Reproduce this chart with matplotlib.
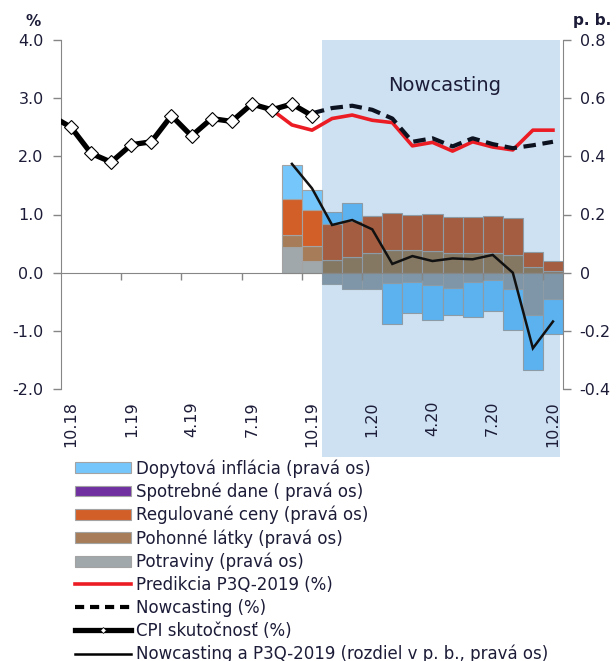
import numpy as np
import matplotlib
matplotlib.use("Agg")
import matplotlib.pyplot as plt
from matplotlib.patches import Rectangle, Patch
from matplotlib.lines import Line2D

# ---------------- data ----------------
months = ['10.18', '11.18', '12.18', '1.19', '2.19', '3.19', '4.19', '5.19', '6.19',
          '7.19', '8.19', '9.19', '10.19', '11.19', '12.19', '1.20', '2.20', '3.20',
          '4.20', '5.20', '6.20', '7.20', '8.20', '9.20', '10.20']
label_months = ['10.18', '1.19', '4.19', '7.19', '10.19', '1.20', '4.20', '7.20', '10.20']

# CPI actual (%), from 9.18 (just left of the axis) to 10.19
cpi_months = ['9.18'] + months[:13]
cpi = [2.7, 2.5, 2.05, 1.9, 2.2, 2.25, 2.7, 2.35, 2.65, 2.6, 2.9, 2.8, 2.9, 2.7]

# Prediction P3Q-2019 (%), from 9.18 to 10.20
pred_months = ['9.18'] + months
pred = [2.7, 2.5, 2.05, 1.9, 2.2, 2.25, 2.7, 2.35, 2.65, 2.6, 2.9, 2.8,
        2.54, 2.45, 2.65, 2.71, 2.62, 2.58, 2.18, 2.24, 2.09, 2.25, 2.16, 2.11, 2.45, 2.45]

# Nowcasting (%), 10.19 - 10.20
now_months = months[12:]
nowcast = [2.74, 2.83, 2.87, 2.80, 2.65, 2.25, 2.31, 2.17, 2.31, 2.21, 2.14, 2.19, 2.25]

# Decomposition (p. b., right axis), 9.19 - 10.20
bar_months = months[11:]
demand = [0.117, 0.067, 0.040, 0.062, 0.0, -0.138, -0.109, -0.120, -0.094, -0.120, -0.106, -0.140, -0.187, -0.120]
excise = [0.0, 0.0, 0.0, 0.0, 0.0, 0.0, 0.0, 0.0, 0.0, 0.0, 0.0, 0.0, 0.0, 0.0]
regulated = [0.125, 0.124, 0.124, 0.126, 0.126, 0.128, 0.120, 0.125, 0.126, 0.126, 0.128, 0.128, 0.049, 0.034]
fuel = [0.040, 0.052, 0.044, 0.053, 0.069, 0.078, 0.078, 0.076, 0.067, 0.067, 0.067, 0.061, 0.021, 0.005]
food = [0.088, 0.040, -0.040, -0.057, -0.057, -0.037, -0.031, -0.042, -0.052, -0.031, -0.025, -0.057, -0.146, -0.092]
# Nowcasting minus P3Q-2019 (p. b., right axis)
diff = [0.374, 0.29, 0.164, 0.181, 0.149, 0.030, 0.057, 0.040, 0.049, 0.046, 0.061, 0.0, -0.26, -0.168]

nowcast_start = '11.19'

# ---------------- style ----------------
TXT = '#1c1c38'
GRID = '#868686'
SHADE = '#cde1f2'
base_cols = {'food': '#a0a8ac', 'fuel': '#a67d58', 'excise': '#7030a0',
             'regulated': '#d25f28', 'demand': '#75c6fa'}
shade_cols = {'food': '#7e96a8', 'fuel': '#857863', 'excise': '#5a2a80',
              'regulated': '#a45d40', 'demand': '#5cb2ee'}

plt.rcParams['font.family'] = ['DejaVu Sans']

W, H = 616, 661
fig = plt.figure(figsize=(W / 100, H / 100), dpi=100)
ax_l, ax_r, ax_t, ax_b = 61, 563, 40, 389
ax = fig.add_axes([ax_l / W, 1 - ax_b / H, (ax_r - ax_l) / W, (ax_b - ax_t) / H])
ax2 = ax.twinx()

pos = {m: i for i, m in enumerate(months)}
pos['9.18'] = -1

ax.set_xlim(-0.5, len(months) - 0.5)
ax.set_ylim(-0.4, 0.8)
ax2.set_ylim(-2.0, 4.0)

# shading of the nowcasting period (extends below the plot, behind labels)
x0 = pos[nowcast_start] - 0.5
x1 = len(months) - 0.65
shade = Rectangle((x0, -0.195), x1 - x0, 1.195,
                  transform=ax.get_xaxis_transform(), facecolor=SHADE,
                  edgecolor='none', clip_on=False, zorder=0)
ax.add_patch(shade)
ax.text((x0 + x1) / 2 + 0.2, 0.87, 'Nowcasting', transform=ax.get_xaxis_transform(),
        ha='center', va='center', fontsize=14, color=TXT, zorder=5)

# stacked bars
bx = np.array([pos[m] for m in bar_months])
in_shade = bx >= pos[nowcast_start]
series = [('food', food), ('fuel', fuel), ('excise', excise),
          ('regulated', regulated), ('demand', demand)]
pos_bottom = np.zeros(len(bx))
neg_bottom = np.zeros(len(bx))
for name, vals in series:
    v = np.array(vals)
    bottom = np.where(v >= 0, pos_bottom, neg_bottom)
    cols = [shade_cols[name] if s else base_cols[name] for s in in_shade]
    ecols = ['#8d9ba6' if s else '#a3a3a3' for s in in_shade]
    ax.bar(bx, v, bottom=bottom, width=1.0, color=cols, edgecolor=ecols,
           linewidth=0.8, zorder=1)
    pos_bottom = pos_bottom + np.where(v > 0, v, 0)
    neg_bottom = neg_bottom + np.where(v < 0, v, 0)

ax.plot(bx, diff, color='#111111', lw=1.8, zorder=3, solid_joinstyle='miter')

# lines on % axis
ax2.plot([pos[m] for m in pred_months], pred, color='#ec1c24', lw=2.6, zorder=2)
ax2.plot([pos[m] for m in now_months], nowcast, color='#0d1220', lw=3.0,
         dashes=(3.0, 1.6), zorder=3)
ax2.plot([pos[m] for m in cpi_months], cpi, color='black', lw=3.8, zorder=4,
         marker='D', markersize=7, markerfacecolor='white', markeredgecolor='black',
         markeredgewidth=0.8)

# axes / spines
ax.yaxis.tick_right()
ax2.yaxis.tick_left()
for s in ['left', 'top']:
    ax.spines[s].set_visible(False)
ax.spines['right'].set_color(GRID)
ax.spines['bottom'].set_position(('data', 0))
ax.spines['bottom'].set_color(GRID)
for s in ['right', 'top', 'bottom']:
    ax2.spines[s].set_visible(False)
ax2.spines['left'].set_color(GRID)

TICK_FS = 11.5
ax.set_yticks([0.8, 0.6, 0.4, 0.2, 0.0, -0.2, -0.4])
ax.set_yticklabels(['0.8', '0.6', '0.4', '0.2', '0', '-0.2', '-0.4'])
ax.tick_params(axis='y', right=True, left=False, labelright=True, labelleft=False,
               length=6, width=1, color=GRID, pad=6, labelsize=TICK_FS, labelcolor=TXT)
ax2.set_yticks([4, 3, 2, 1, 0, -1, -2])
ax2.set_yticklabels([f'{v:.1f}' for v in [4, 3, 2, 1, 0, -1, -2]])
ax2.tick_params(axis='y', left=True, right=False, labelleft=True, labelright=False,
                length=6, width=1, color=GRID, pad=6.5, labelsize=TICK_FS, labelcolor=TXT)

ax_h_px = ax_b - ax_t
pad_pt = ((0.0 - (-0.4)) / 1.2 * ax_h_px + 12) * 72 / 100
ax.set_xticks([pos[m] for m in label_months])
ax.set_xticklabels(label_months, rotation=90)
ax.tick_params(axis='x', which='major', length=0, pad=pad_pt, labelsize=TICK_FS, labelcolor=TXT)
ax.set_xticks([pos[m] - 0.5 for m in label_months[1:]], minor=True)
ax.tick_params(axis='x', which='minor', length=5, width=1, color=GRID, direction='out')

fig.text(33 / W, 1 - 21 / H, '%', ha='center', va='center', fontsize=11,
         fontweight='bold', color=TXT)
fig.text(592 / W, 1 - 21 / H, 'p. b.', ha='center', va='center', fontsize=11,
         fontweight='bold', color=TXT)

# legend
handles = [
    Patch(facecolor=base_cols['demand'], edgecolor='#a3a3a3', lw=0.8),
    Patch(facecolor=base_cols['excise'], edgecolor='#a3a3a3', lw=0.8),
    Patch(facecolor=base_cols['regulated'], edgecolor='#a3a3a3', lw=0.8),
    Patch(facecolor=base_cols['fuel'], edgecolor='#a3a3a3', lw=0.8),
    Patch(facecolor=base_cols['food'], edgecolor='#a3a3a3', lw=0.8),
    Line2D([], [], color='#ec1c24', lw=2.6),
    Line2D([], [], color='black', lw=3.0, dashes=(2.2, 1.4)),
    Line2D([], [], color='black', lw=3.8, marker='D', markersize=3,
           markerfacecolor='white', markeredgecolor='black', markeredgewidth=0.5,
           markevery=[1]),
    Line2D([], [], color='black', lw=1.8),
]
labels = ['Dopytová inflácia (pravá os)', 'Spotrebné dane ( pravá os)',
          'Regulované ceny (pravá os)', 'Pohonné látky (pravá os)',
          'Potraviny (pravá os)', 'Predikcia P3Q-2019 (%)', 'Nowcasting (%)',
          'CPI skutočnosť (%)', 'Nowcasting a P3Q-2019 (rozdiel v p. b., pravá os)']
leg = fig.legend(handles, labels, loc='upper left', bbox_to_anchor=(75 / W, 1 - 459 / H),
                 frameon=False, fontsize=12, handlelength=3.35, handleheight=0.62,
                 handletextpad=0.33, labelspacing=0.295, borderpad=0, borderaxespad=0)
for t in leg.get_texts():
    t.set_color(TXT)

fig.savefig('out.png', dpi=100)
